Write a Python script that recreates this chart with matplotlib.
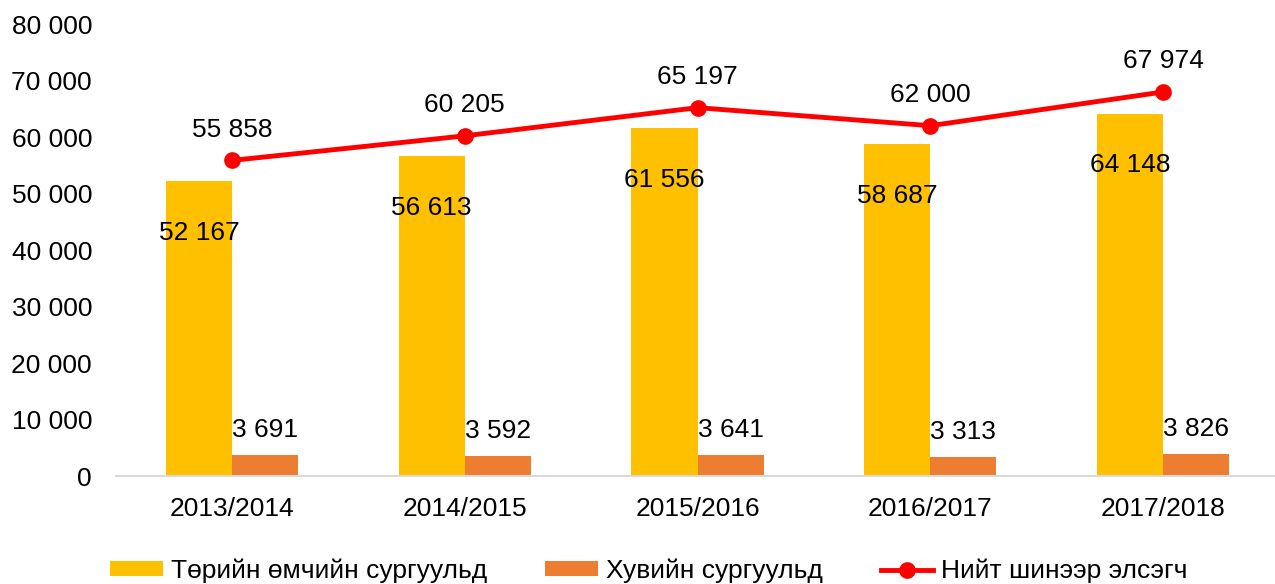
import numpy as np
import matplotlib
matplotlib.use("Agg")
import matplotlib.pyplot as plt

plt.rcParams['font.family'] = ['Liberation Sans', 'DejaVu Sans']

# Data
years = ["2013/2014", "2014/2015", "2015/2016", "2016/2017", "2017/2018"]
state_schools = [52167, 56613, 61556, 58687, 64148]
private_schools = [3691, 3592, 3641, 3313, 3826]
total_new = [55858, 60205, 65197, 62000, 67974]

labels = ["Төрийн өмчийн сургуульд", "Хувийн сургуульд", "Нийт шинээр элсэгч"]


def fmt(v):
    return f"{v:,}".replace(",", " ")


fig = plt.figure(figsize=(12.75, 5.84), dpi=100)
ax = fig.add_axes([0.0907, 0.1849, 0.9128, 0.774])

x = np.arange(len(years))
w = 0.284

b1 = ax.bar(x - w / 2, state_schools, w, color="#FFC000", label=labels[0])
b2 = ax.bar(x + w / 2, private_schools, w, color="#ED7D31", label=labels[1])
ln, = ax.plot(x, total_new, color="#FF0000", linewidth=3.5, marker="o",
              markersize=11, label=labels[2])

fs = 19
for xi, v in zip(x, state_schools):
    ax.annotate(fmt(v), (xi - w / 2, v), xytext=(0, -37), textcoords="offset points",
                ha="center", va="center", fontsize=fs)
for xi, v in zip(x, private_schools):
    ax.annotate(fmt(v), (xi + w / 2, v), xytext=(0, 18), textcoords="offset points",
                ha="center", va="center", fontsize=fs)
for xi, v in zip(x, total_new):
    ax.annotate(fmt(v), (xi, v), xytext=(0, 22), textcoords="offset points",
                ha="center", va="center", fontsize=fs)

ax.set_xlim(-0.5, len(years) - 0.5)
ax.set_ylim(0, 80000)
ax.set_yticks(np.arange(0, 80001, 10000))
ax.set_yticklabels([fmt(v) for v in range(0, 80001, 10000)], fontsize=fs)
ax.set_xticks(x)
ax.set_xticklabels(years, fontsize=fs)
ax.tick_params(length=0)
ax.tick_params(axis="x", pad=15)
ax.tick_params(axis="y", pad=17)

for s in ["top", "right", "left"]:
    ax.spines[s].set_visible(False)
ax.spines["bottom"].set_color("#D9D9D9")
ax.spines["bottom"].set_linewidth(1.5)

fig.legend(handles=[b1, b2, ln], labels=labels, loc="center left",
           bbox_to_anchor=(110 / 1275, 13 / 584), bbox_transform=fig.transFigure,
           ncol=3, frameon=False, fontsize=fs, borderpad=0, borderaxespad=0,
           handlelength=2.0, handleheight=0.5, handletextpad=0.3, columnspacing=2.2)

plt.savefig("out.png", dpi=100)
